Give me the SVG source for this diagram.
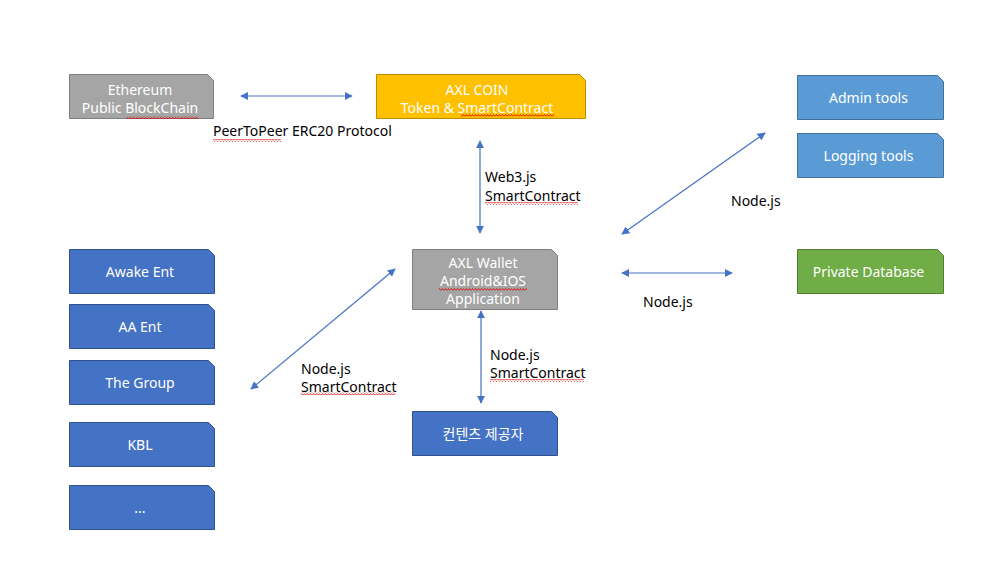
<svg xmlns="http://www.w3.org/2000/svg" width="1000" height="562" viewBox="0 0 1000 562">
<style>
.t{font-family:"Noto Sans","Malgun Gothic","Noto Sans CJK KR",sans-serif;font-size:14px;text-anchor:middle;fill:#fff}
.l{font-family:"Noto Sans","Noto Sans CJK KR",sans-serif;font-size:14px;fill:#000}
.grey{fill:#a5a5a5;stroke:#7f7f7f;stroke-width:1}
.blue{fill:#4472c4;stroke:#2f528f;stroke-width:1}
.orange{fill:#ffc000;stroke:#bc8c00;stroke-width:1}
.lblue{fill:#5b9bd5;stroke:#41719c;stroke-width:1}
.green{fill:#70ad47;stroke:#507e32;stroke-width:1}
.c{stroke:#4472c4;stroke-width:1.2;fill:none;marker-start:url(#a);marker-end:url(#a)}
.sq{stroke:#e00000;stroke-width:0.8;fill:none}
</style>
<defs>
<marker id="a" viewBox="0 0 10 10" refX="9" refY="5" markerWidth="8" markerHeight="8" markerUnits="userSpaceOnUse" orient="auto-start-reverse">
<path d="M0,0 L10,5 L0,10 z" fill="#4472c4"/>
</marker>
<pattern id="w" width="3" height="3" patternUnits="userSpaceOnUse"><path d="M0,2.5 L1.5,0.5 L3,2.5" class="sq"/></pattern>
</defs>
<rect width="1000" height="562" fill="#fff"/>
<g id="ethereum"><path class="grey" d="M69.5,74.5 H207.5 L213.5,80.5 V118.5 H69.5 Z"/><text class="t" x="140" y="95">Ethereum</text><text class="t" x="140" y="113">Public BlockChain</text></g>
<g id="axlcoin"><path class="orange" d="M376.5,74.5 H579.5 L585.5,80.5 V118.5 H376.5 Z"/><text class="t" x="477" y="95">AXL COIN</text><text class="t" x="477" y="113">Token &amp; SmartContract</text></g>
<g id="admin"><path class="lblue" d="M797.5,75.5 H937.5 L943.5,81.5 V119.5 H797.5 Z"/><text class="t" x="868.5" y="103">Admin tools</text></g>
<g id="logging"><path class="lblue" d="M797.5,133.5 H937.5 L943.5,139.5 V177.5 H797.5 Z"/><text class="t" x="868.5" y="161">Logging tools</text></g>
<g id="privatedb"><path class="green" d="M797.5,249.5 H937.5 L943.5,255.5 V293.5 H797.5 Z"/><text class="t" x="868.5" y="277">Private Database</text></g>
<g id="wallet"><path class="grey" d="M412.5,249.5 H551.5 L557.5,255.5 V309.5 H412.5 Z"/><text class="t" x="483" y="268">AXL Wallet</text><text class="t" x="483" y="286">Android&amp;IOS</text><text class="t" x="483" y="304">Application</text></g>
<g id="awake"><path class="blue" d="M69.5,249.5 H208.5 L214.5,255.5 V293.5 H69.5 Z"/><text class="t" x="140" y="277">Awake Ent</text></g>
<g id="aa"><path class="blue" d="M69.5,304.5 H208.5 L214.5,310.5 V348.5 H69.5 Z"/><text class="t" x="140" y="332">AA Ent</text></g>
<g id="group"><path class="blue" d="M69.5,360.5 H208.5 L214.5,366.5 V404.5 H69.5 Z"/><text class="t" x="140" y="388">The Group</text></g>
<g id="kbl"><path class="blue" d="M69.5,422.5 H208.5 L214.5,428.5 V466.5 H69.5 Z"/><text class="t" x="140" y="450">KBL</text></g>
<g id="etc"><path class="blue" d="M69.5,485.5 H208.5 L214.5,491.5 V529.5 H69.5 Z"/><text class="t" x="140" y="513">...</text></g>
<g id="content"><path class="blue" d="M412.5,411.5 H551.5 L557.5,417.5 V455.5 H412.5 Z"/><text class="t" x="483" y="439">컨텐츠 제공자</text></g>
<g id="connectors">
<line class="c" x1="241" y1="96" x2="352" y2="96"/>
<line class="c" x1="480" y1="141" x2="480" y2="233"/>
<line class="c" x1="622" y1="234" x2="765" y2="133"/>
<line class="c" x1="622" y1="273" x2="732" y2="273"/>
<line class="c" x1="251" y1="389" x2="395" y2="269"/>
<line class="c" x1="481" y1="311" x2="481" y2="403"/>
</g>
<g id="labels">
<text class="l" x="213" y="136">PeerToPeer ERC20 Protocol</text>
<text class="l" x="485" y="182">Web3.js</text>
<text class="l" x="485" y="201">SmartContract</text>
<text class="l" x="731" y="206">Node.js</text>
<text class="l" x="643" y="307">Node.js</text>
<text class="l" x="301" y="374">Node.js</text>
<text class="l" x="301" y="392">SmartContract</text>
<text class="l" x="490" y="360">Node.js</text>
<text class="l" x="490" y="378">SmartContract</text>
</g>
<g id="spellcheck">
<rect x="127" y="116" width="72" height="3" fill="url(#w)"/>
<rect x="461" y="114" width="93" height="3" fill="url(#w)"/>
<rect x="439" y="288" width="88" height="3" fill="url(#w)"/>
<rect x="213" y="139" width="68" height="3" fill="url(#w)"/>
<rect x="485" y="202" width="93" height="3" fill="url(#w)"/>
<rect x="301" y="392" width="94" height="3" fill="url(#w)"/>
<rect x="490" y="379" width="94" height="3" fill="url(#w)"/>
</g>
</svg>
